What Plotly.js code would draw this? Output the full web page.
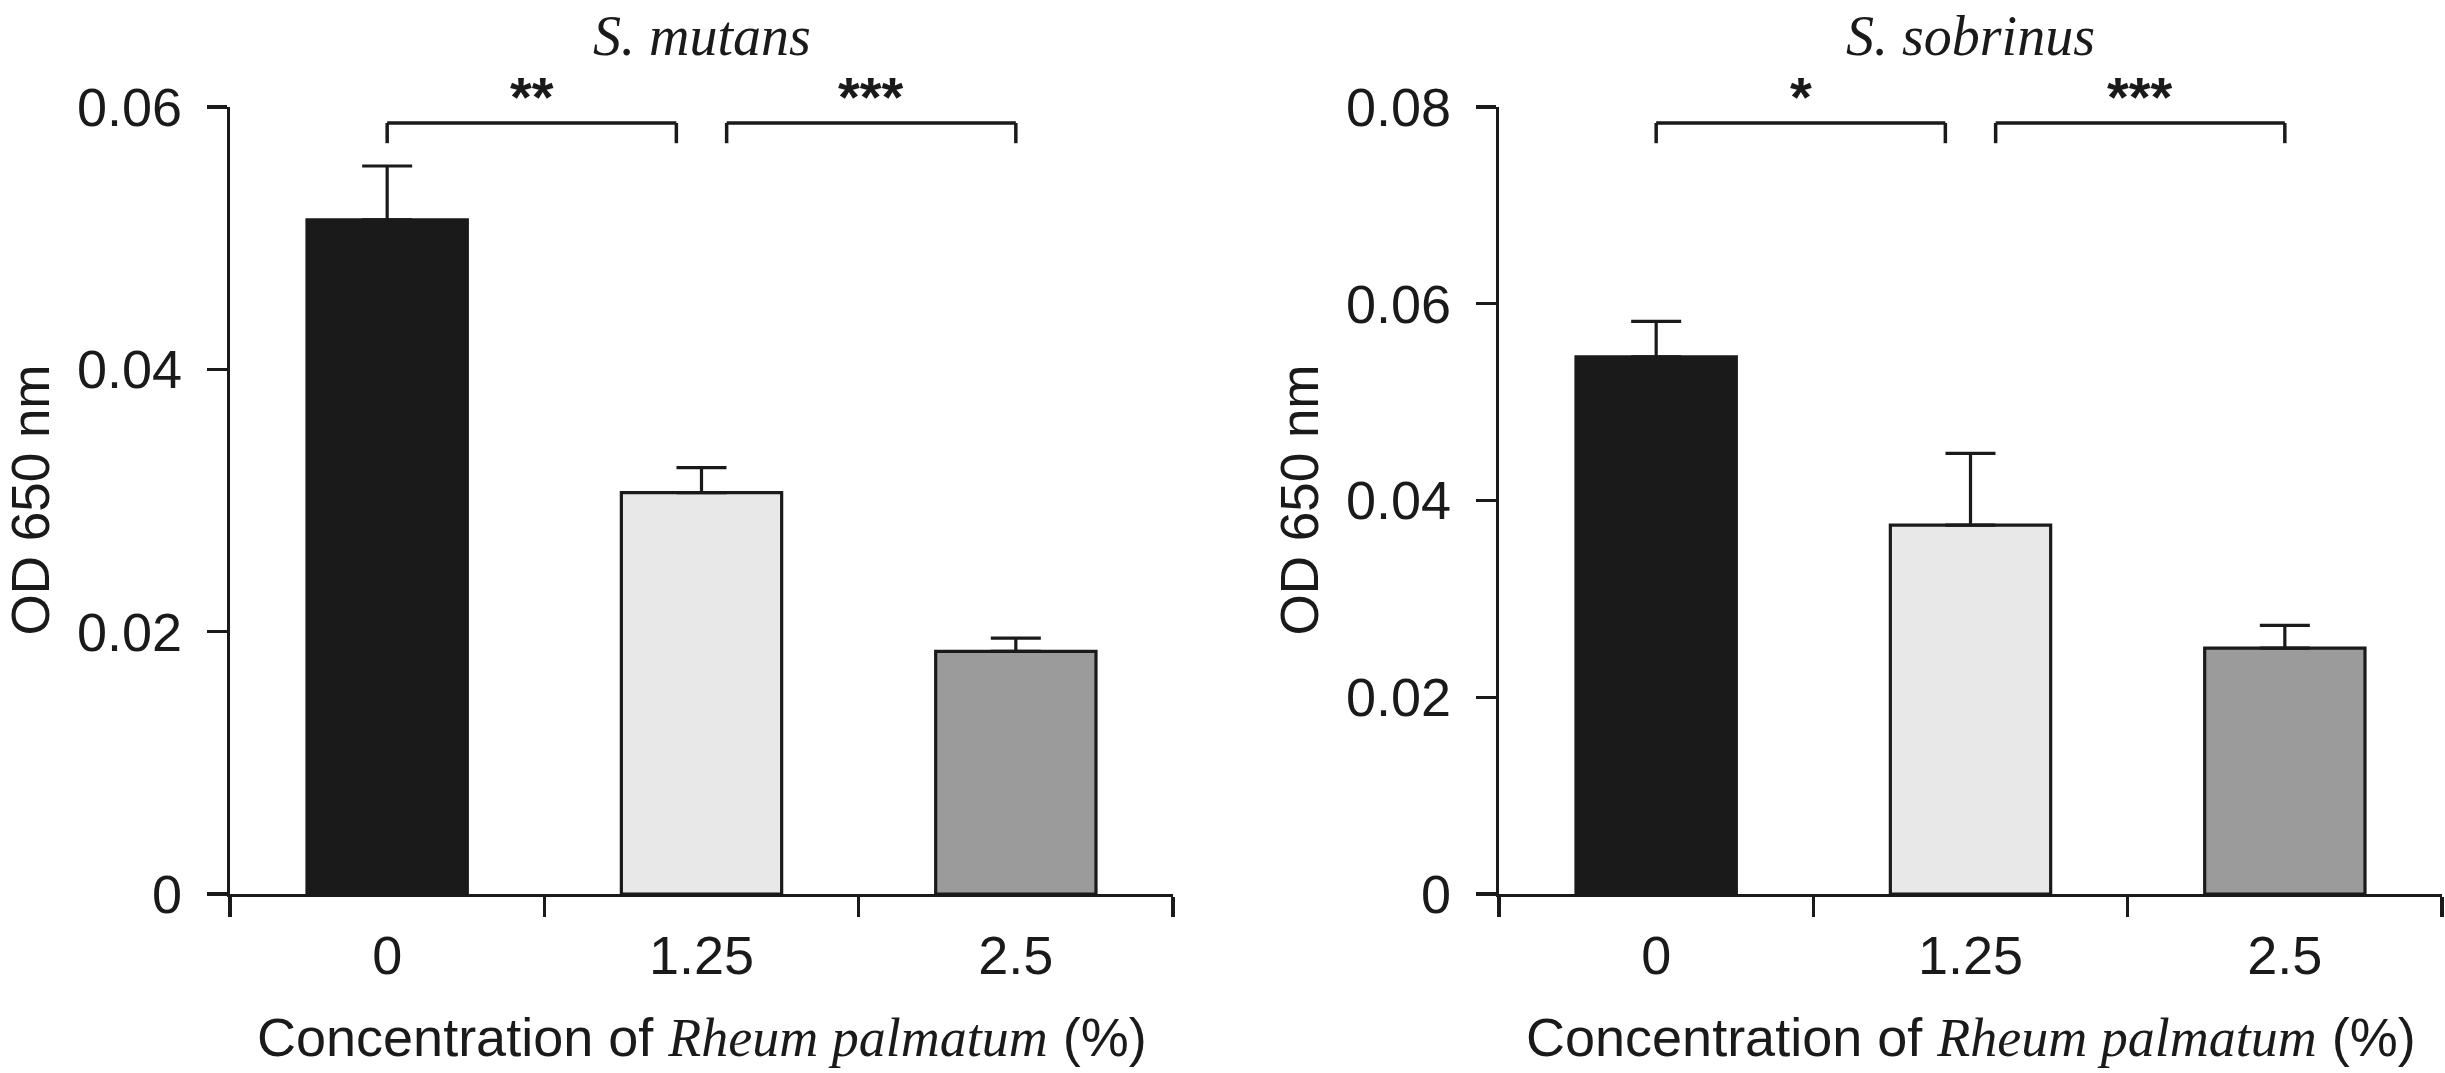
<!DOCTYPE html>
<html><head><meta charset="utf-8">
<script src="https://cdn.plot.ly/plotly-3.0.1.min.js"></script>
<style>html,body{margin:0;padding:0;background:#fff}</style>
</head><body><div id="chart" style="width:2445px;height:1073px"></div>
<script>
// ---- data ----
const categories = ['0', '1.25', '2.5'];
const mutansMean = [0.0514, 0.0306, 0.0185];
const mutansErr = [0.0041, 0.0019, 0.0010];
const sobrinusMean = [0.0546, 0.0375, 0.0250];
const sobrinusErr = [0.0036, 0.0073, 0.0023];
const comparisons = [[0, 1], [1, 2]];
const mutansStars = ['**', '***'];
const sobrinusStars = ['*', '***'];
const panelTitles = ['S. mutans', 'S. sobrinus'];
const yMax = [0.06, 0.08];
const yTicks1 = [0, 0.02, 0.04, 0.06];
const yTicks2 = [0, 0.02, 0.04, 0.06, 0.08];
const xTitle = 'Concentration of <i><span style="font-family:Liberation Serif">Rheum palmatum</span></i> (%)';
const yTitle = 'OD 650 nm';

// ---- styles ----
const INK = '#1a1a1a';
const barColors = ['#1a1a1a', '#e8e8e8', '#9b9b9b'];
const SANS = 'Liberation Sans, Arial, sans-serif';
const SERIF = 'Liberation Serif, Times New Roman, serif';
const W = 2445, H = 1073;
const dom1 = [230 / W, 1173 / W];
const dom2 = [1499 / W, 2442 / W];

function barTrace(means, errs, xa, ya) {
  return {
    type: 'bar', x: categories, y: means, xaxis: xa, yaxis: ya,
    width: 0.51,
    marker: {color: barColors, line: {color: INK, width: 3.2}},
    error_y: {type: 'data', symmetric: false, array: errs, arrayminus: errs.map(() => 0),
      thickness: 3.2, width: 25, color: INK},
    cliponaxis: false, hoverinfo: 'x+y', showlegend: false
  };
}

const shapes = [], annotations = [];
function brackets(stars, ymax, xr, yr) {
  const gap = 0.08;
  const top = ymax * 0.9797, leg = ymax * 0.954;
  comparisons.forEach((c, i) => {
    const a = c[0], b = c[1];
    const x0 = a === 1 ? a + gap : a;
    const x1 = b === 1 ? b - gap : b;
    const ln = {color: INK, width: 3.5};
    shapes.push({type: 'line', xref: xr, yref: yr, x0: x0, x1: x0, y0: leg, y1: top, line: ln});
    shapes.push({type: 'line', xref: xr, yref: yr, x0: x0, x1: x1, y0: top, y1: top, line: ln});
    shapes.push({type: 'line', xref: xr, yref: yr, x0: x1, x1: x1, y0: top, y1: leg, line: ln});
    annotations.push({xref: xr, yref: yr, x: (x0 + x1) / 2, y: top, text: '<b>' + stars[i] + '</b>',
      showarrow: false, yanchor: 'bottom', yshift: -7,
      font: {family: SANS, size: 56, color: INK}});
  });
}
brackets(mutansStars, yMax[0], 'x', 'y');
brackets(sobrinusStars, yMax[1], 'x2', 'y2');

['x', 'x2'].forEach((xa, i) => {
  // panel title
  annotations.push({xref: xa + ' domain', yref: 'paper',
    x: 0.5, y: 1, yanchor: 'bottom', yshift: 39, showarrow: false, borderpad: 0,
    text: '<i>' + panelTitles[i] + '</i>', font: {family: SERIF, size: 56, color: INK}});
  // x axis title
  annotations.push({xref: xa + ' domain', yref: 'paper',
    x: 0.5, y: 0, yanchor: 'middle', yshift: -143, showarrow: false, borderpad: 0,
    text: xTitle, font: {family: SANS, size: 54, color: INK}});
  // y axis title
  annotations.push({xref: xa + ' domain', yref: 'paper',
    x: 0, y: 0.5, xanchor: 'center', yanchor: 'middle', xshift: -200, textangle: -90,
    showarrow: false, borderpad: 0, text: yTitle, font: {family: SANS, size: 53, color: INK}});
});

function xAxis(dom, ya) {
  return {
    type: 'category', domain: dom, anchor: ya, range: [-0.5, 2.5],
    showline: true, linewidth: 3.2, linecolor: INK,
    ticks: 'outside', tickson: 'boundaries', ticklen: 20, tickwidth: 3.2, tickcolor: INK,
    tickfont: {family: SANS, size: 54, color: INK}, ticklabelstandoff: 12,
    showgrid: false, zeroline: false, fixedrange: true
  };
}
function yAxis(rng, tv, xa) {
  return {
    range: [0, rng], anchor: xa, tickvals: tv,
    showline: true, linewidth: 3.2, linecolor: INK,
    ticks: 'outside', ticklen: 20, tickwidth: 3.2, tickcolor: INK,
    tickfont: {family: SANS, size: 54, color: INK}, ticklabelstandoff: 14,
    showgrid: false, zeroline: false, fixedrange: true
  };
}

const layout = {
  width: W, height: H,
  margin: {l: 0, r: 0, t: 107, b: 179, pad: 0},
  paper_bgcolor: '#fff', plot_bgcolor: '#fff',
  xaxis: xAxis(dom1, 'y'), yaxis: yAxis(yMax[0], yTicks1, 'x'),
  xaxis2: xAxis(dom2, 'y2'), yaxis2: yAxis(yMax[1], yTicks2, 'x2'),
  shapes: shapes, annotations: annotations, showlegend: false, bargap: 0.49
};

Plotly.newPlot('chart', [
  barTrace(mutansMean, mutansErr, 'x', 'y'),
  barTrace(sobrinusMean, sobrinusErr, 'x2', 'y2')
], layout, {displayModeBar: false, staticPlot: true});
</script></body></html>
